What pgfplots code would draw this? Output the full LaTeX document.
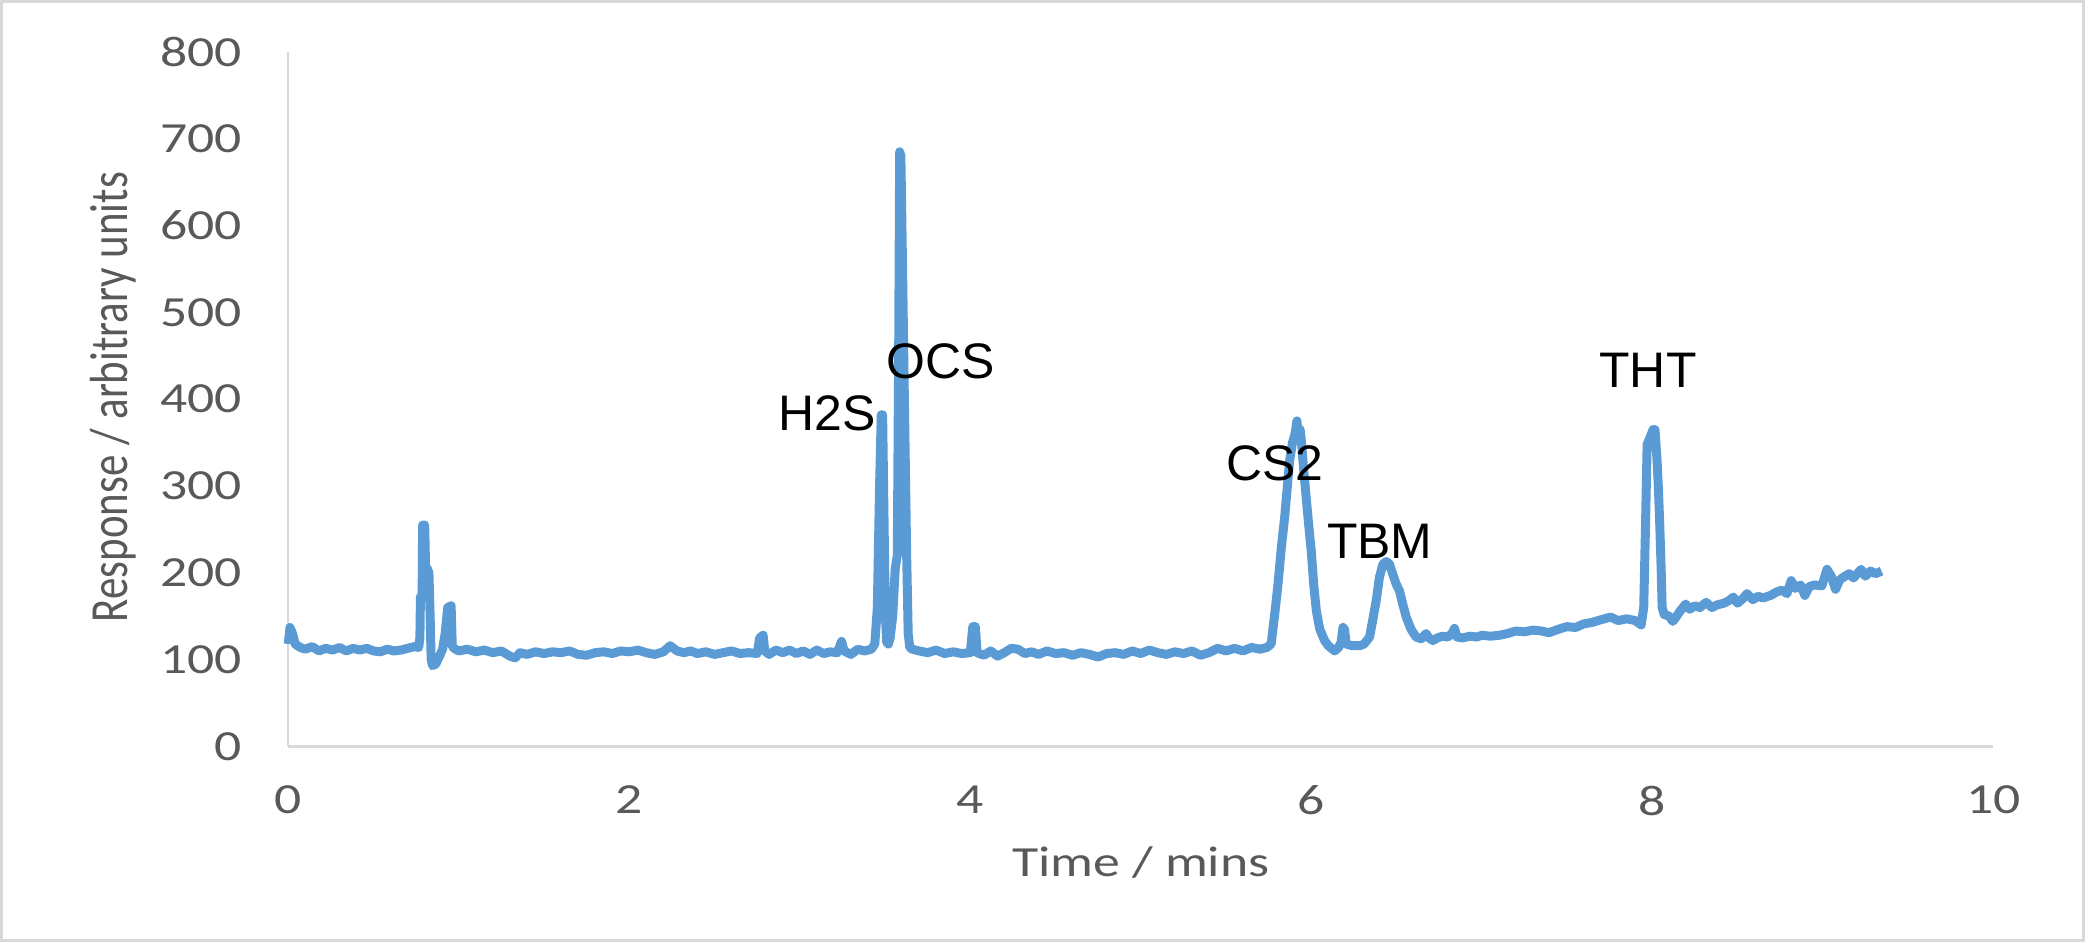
\documentclass[border=0pt]{standalone}
\usepackage{fontspec}
\usepackage{pgfplots}
\pgfplotsset{compat=1.18}
\setmainfont{Carlito}
\newfontfamily\calibw[FakeStretch=1.25]{Carlito}
\newfontfamily\arialf{Liberation Sans}
\definecolor{trace}{HTML}{5B9BD5}
\definecolor{ticktext}{HTML}{595959}
\definecolor{axline}{HTML}{D9D9D9}

\begin{document}
\begin{tikzpicture}
\begin{axis}[
    scale only axis,
    width=853.7pt, height=347.75pt,
    xmin=0, xmax=10, ymin=0, ymax=800,
    xtick={0,2,...,10}, ytick={0,100,...,800},
    axis lines=left,
    axis line style={-, draw=axline, line width=1.2pt},
    major tick length=0pt,
    clip=false,
    /pgf/number format/assume math mode=true,
    tick label style={font=\calibw\fontsize{21.5}{26}\selectfont, text=ticktext, inner sep=0pt},
    yticklabel style={anchor=east},
    xticklabel style={anchor=north},
    yticklabel shift=23pt,
    xticklabel shift=19.5pt,
    xlabel={Time / mins},
    xlabel style={font=\calibw\fontsize{21.5}{26}\selectfont, text=ticktext,
        at={(axis description cs:0.5,0)}, anchor=center, yshift=-58pt},
]
\coordinate (O) at (rel axis cs:0,0);
\addplot[color=trace, line width=4.5pt, line join=round] coordinates {
(0,118) (0.01,137) (0.025,130) (0.04,118) (0.07,114) (0.10,112) (0.14,115) (0.18,110)
(0.22,113) (0.26,111) (0.30,114) (0.34,110) (0.38,113) (0.42,111) (0.46,113) (0.50,110)
(0.54,109) (0.58,112) (0.62,110) (0.66,111) (0.70,113) (0.74,115) (0.765,114)
(0.772,125) (0.775,172) (0.785,175) (0.788,255) (0.800,255) (0.806,200) (0.815,205)
(0.825,200) (0.832,150) (0.838,100) (0.846,93) (0.865,95) (0.885,103) (0.905,112)
(0.920,130) (0.935,160) (0.955,162) (0.962,115) (0.98,112)
(1.00,110) (1.05,112) (1.10,109) (1.15,111) (1.20,108) (1.25,110) (1.30,104) (1.33,102)
(1.36,108) (1.40,106) (1.45,109) (1.50,107) (1.55,109) (1.60,108) (1.65,110) (1.70,106)
(1.75,105) (1.80,108) (1.85,109) (1.90,107) (1.95,110) (2.00,109) (2.05,111) (2.10,108)
(2.15,106) (2.20,109) (2.24,116) (2.28,110) (2.32,108) (2.36,110) (2.40,107) (2.45,109)
(2.50,106) (2.55,108) (2.60,110) (2.65,107) (2.70,108) (2.75,107) (2.765,125) (2.785,128)
(2.795,110) (2.82,106) (2.86,111) (2.90,108) (2.94,111) (2.98,107) (3.02,110) (3.06,106)
(3.10,111) (3.14,107) (3.18,109) (3.22,108) (3.245,121) (3.26,110) (3.30,106) (3.34,112)
(3.38,110) (3.42,112) (3.44,118)
(3.455,160) (3.468,300) (3.478,382) (3.486,382) (3.495,250) (3.502,150) (3.510,120)
(3.520,118) (3.530,125)
(3.545,150) (3.560,205) (3.572,220) (3.580,450) (3.586,685) (3.593,680) (3.603,550)
(3.615,380) (3.627,220) (3.636,130) (3.645,114) (3.66,112)
(3.70,110) (3.75,108) (3.80,111) (3.85,107) (3.90,109) (3.95,107) (4.00,108) (4.015,138)
(4.03,138) (4.04,108) (4.08,105) (4.12,110) (4.16,104) (4.20,108) (4.24,113) (4.28,112)
(4.32,107) (4.36,109) (4.40,106) (4.45,110) (4.50,107) (4.55,108) (4.60,105) (4.65,108)
(4.70,106) (4.75,103) (4.80,107) (4.85,108) (4.90,106) (4.95,110) (5.00,107) (5.05,111)
(5.10,108) (5.15,106) (5.20,109) (5.25,107) (5.30,110) (5.35,105) (5.40,108) (5.45,113)
(5.50,110) (5.55,113) (5.60,110) (5.65,114) (5.70,112) (5.74,114) (5.765,118)
(5.79,160) (5.805,187) (5.825,230) (5.844,264) (5.86,300) (5.873,329) (5.89,350)
(5.905,360) (5.916,375) (5.925,355) (5.935,365) (5.942,352) (5.955,320) (5.967,294)
(5.985,255) (6.000,225) (6.015,185) (6.030,156) (6.050,135) (6.078,122) (6.10,116)
(6.137,110) (6.16,114) (6.175,120) (6.186,137) (6.195,135) (6.205,118) (6.24,116)
(6.283,116) (6.31,118) (6.342,126) (6.36,145)
(6.381,168) (6.40,195) (6.420,210) (6.44,213) (6.459,210) (6.475,200) (6.498,187)
(6.518,179) (6.535,165) (6.557,149) (6.585,135) (6.615,126) (6.645,124) (6.674,130)
(6.69,125) (6.713,122) (6.74,125) (6.77,127) (6.80,126) (6.825,130) (6.840,136)
(6.855,126) (6.89,125) (6.93,127) (6.97,126) (7.00,128) (7.05,127) (7.103,128)
(7.15,130) (7.20,133) (7.25,132) (7.30,134) (7.35,133) (7.394,131)
(7.45,135) (7.50,138) (7.55,137) (7.596,141) (7.65,143) (7.70,146) (7.756,149)
(7.80,145) (7.85,147) (7.90,145) (7.935,140) (7.950,160)
(7.960,250) (7.970,348) (7.985,355) (8.005,365) (8.016,365) (8.028,330) (8.036,298)
(8.045,250) (8.052,206) (8.058,160) (8.07,152) (8.10,150) (8.12,144) (8.136,148)
(8.16,155) (8.196,164) (8.22,158) (8.25,162) (8.28,160) (8.316,166) (8.35,160)
(8.38,163) (8.42,165) (8.45,168) (8.476,172) (8.50,165) (8.53,170) (8.556,176)
(8.59,169) (8.62,173) (8.65,171) (8.695,174) (8.73,178) (8.76,180) (8.79,176)
(8.815,191) (8.84,182) (8.87,186) (8.895,174) (8.92,184) (8.95,186) (8.995,185)
(9.025,204) (9.05,196) (9.075,181) (9.10,192) (9.13,196) (9.155,199) (9.18,194)
(9.225,204) (9.25,196) (9.28,202) (9.31,199) (9.345,202)
};
\begin{scope}[every node/.style={font=\arialf\fontsize{25}{30}\selectfont, text=black, inner sep=0pt, anchor=center}]
\node at (axis cs:3.162,384) {H2S};
\node at (axis cs:3.824,444) {OCS};
\node at (axis cs:5.787,326) {CS2};
\node at (axis cs:6.402,236) {TBM};
\node at (axis cs:7.975,433) {THT};
\end{scope}
\node[font=\fontsize{21.5}{26}\selectfont, text=ticktext, inner sep=0pt, anchor=center,
    rotate=90, yscale=1.25] at ([xshift=-87.6pt]axis description cs:0,0.503) {Response / arbitrary units};
\end{axis}
\draw[axline, line width=1.5pt] ([shift={(-143.6pt,-97pt)}]O) rectangle ++(1042.5pt,470pt);
\end{tikzpicture}
\end{document}
